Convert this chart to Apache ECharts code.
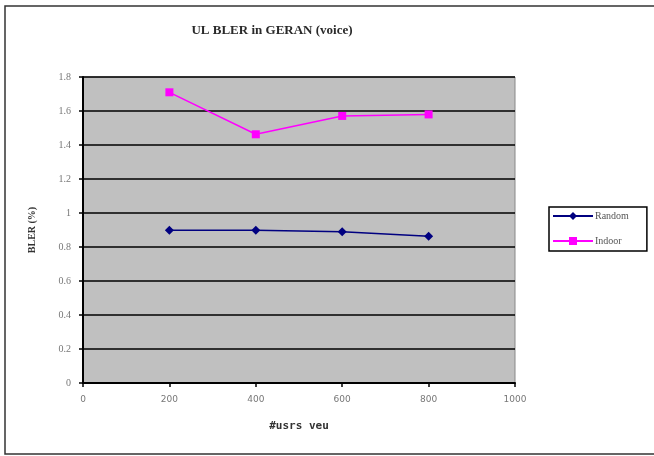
<!DOCTYPE html>
<html><head><meta charset="utf-8">
<script src="https://cdn.jsdelivr.net/npm/echarts@6/dist/echarts.min.js"></script>
<style>html,body{margin:0;padding:0;background:#fff}#c{width:654px;height:456px}</style>
</head><body><div id="c"></div>
<script>
const xValues = [200, 400, 600, 800];
const randomVals = [0.898, 0.898, 0.89, 0.863];
const indoorVals = [1.71, 1.463, 1.571, 1.58];
const seriesNames = ['Random', 'Indoor'];
const titleText = 'UL BLER in GERAN (voice)';
const xName = '#usrs veu';
const yName = 'BLER (%)';

const chart = echarts.init(document.getElementById('c'), null, {renderer: 'canvas'});
const font = 'Liberation Serif';
chart.setOption({
  animation: false,
  backgroundColor: '#fff',
  title: {text: titleText, left: 267, top: 19, textAlign: 'center',
    textStyle: {fontFamily: font, fontSize: 13, fontWeight: 'bold', color: '#2a2a2a'}},
  grid: {left: 83, right: 139, top: 77, bottom: 73, backgroundColor: '#c0c0c0', show: true, borderColor: '#888', borderWidth: 1},
  legend: {
    orient: 'vertical', left: 549, top: 207, itemGap: 15, itemWidth: 40, itemHeight: 10,
    backgroundColor: '#fff', borderColor: '#000', borderWidth: 1.5, padding: [4, 18, 5, 3],
    textStyle: {fontFamily: font, fontSize: 10, color: '#555', padding: [0,0,0,-3]},
    data: seriesNames
  },
  xAxis: {
    type: 'value', min: 0, max: 1000, interval: 200,
    name: xName, nameLocation: 'middle', nameGap: 38,
    nameTextStyle: {fontFamily: 'DejaVu Sans Mono', fontSize: 11, fontWeight: 'bold', color: '#333'},
    axisLine: {lineStyle: {color: '#000', width: 2}},
    axisTick: {show: true, length: 4, lineStyle: {color: '#000', width: 1.5}},
    axisLabel: {fontFamily: 'DejaVu Sans', fontSize: 9, color: '#777', margin: 12,
      formatter: v => String(v)},
    splitLine: {show: false}
  },
  yAxis: {
    type: 'value', min: 0, max: 1.8, interval: 0.2,
    name: yName, nameLocation: 'middle', nameGap: 46, nameRotate: 90,
    nameTextStyle: {fontFamily: font, fontSize: 10, fontWeight: 'bold', color: '#333'},
    axisLine: {show: true, lineStyle: {color: '#000', width: 2}},
    axisTick: {show: true, length: 4, lineStyle: {color: '#000', width: 1.5}},
    axisLabel: {fontFamily: font, fontSize: 10, color: '#777', margin: 12,
      formatter: v => (Math.round(v*10)/10).toString()},
    splitLine: {show: true, lineStyle: {color: '#000', width: 1.5}}
  },
  series: [
    {name: seriesNames[0], type: 'line', data: xValues.map((x,i)=>[x, randomVals[i]]),
     symbol: 'diamond', symbolSize: 9, color: '#000080', lineStyle: {width: 1.5, color: '#000080'},
     itemStyle: {color: '#000080'}},
    {name: seriesNames[1], type: 'line', data: xValues.map((x,i)=>[x, indoorVals[i]]),
     symbol: 'rect', symbolSize: 8, color: '#ff00ff', lineStyle: {width: 1.5, color: '#ff00ff'},
     itemStyle: {color: '#ff00ff'}}
  ],
  graphic: [
    {type: 'rect', shape: {x: 5, y: 6, width: 660, height: 448}, style: {fill: 'none', stroke: '#333', lineWidth: 1.5}, silent: true}
  ]
});
</script></body></html>
